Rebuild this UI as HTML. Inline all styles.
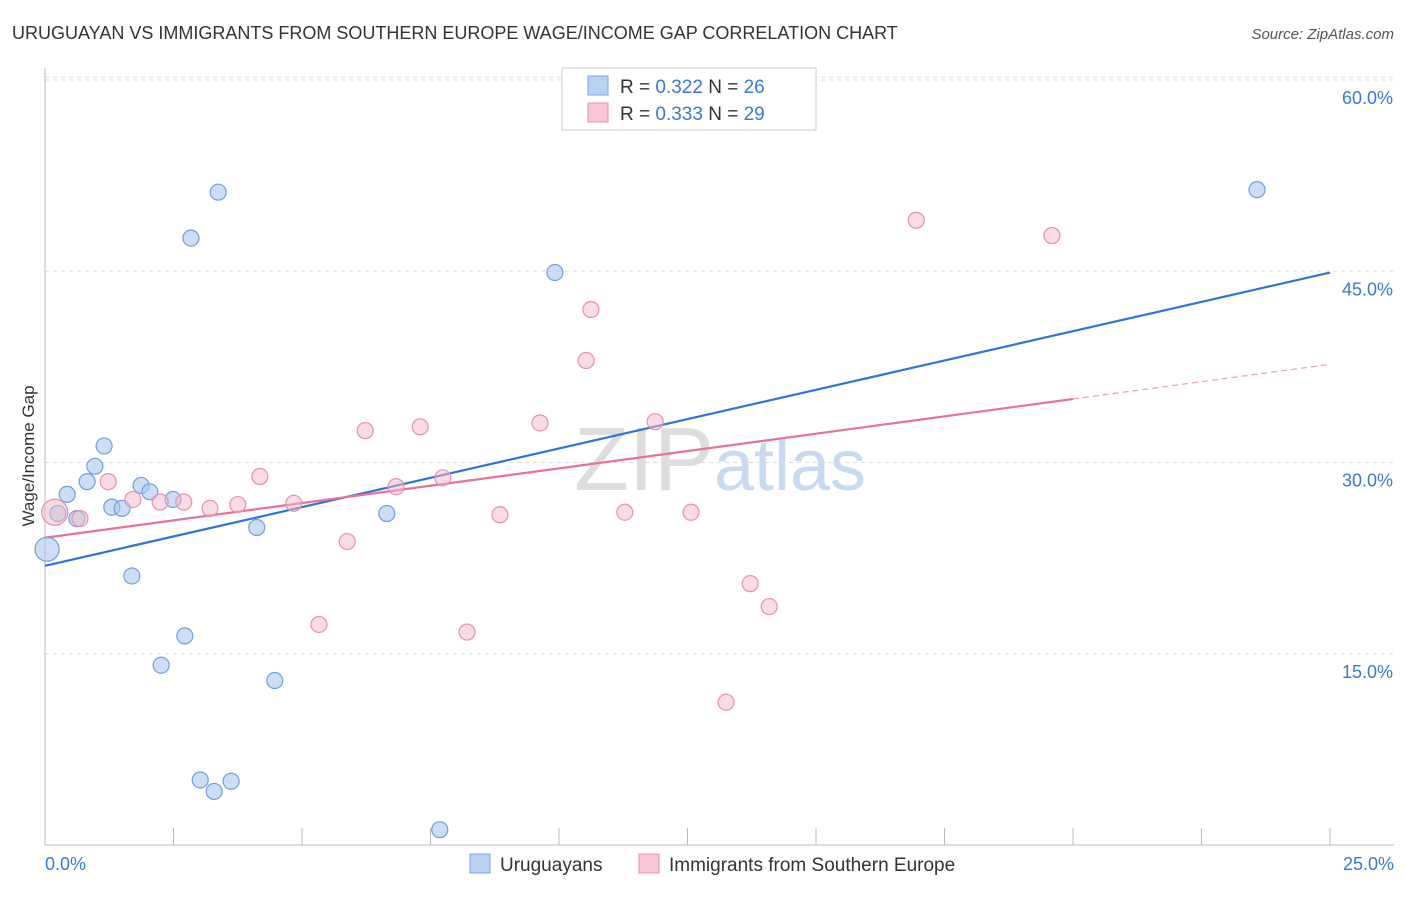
<!DOCTYPE html>
<html><head><meta charset="utf-8"><style>
body{margin:0;background:#fff;font-family:"Liberation Sans",sans-serif;}
svg text{font-family:"Liberation Sans",sans-serif;}
</style></head><body>
<svg id="chart" width="1406" height="892" xmlns="http://www.w3.org/2000/svg">
<text x="12" y="39" font-size="18" fill="#333">URUGUAYAN VS IMMIGRANTS FROM SOUTHERN EUROPE WAGE/INCOME GAP CORRELATION CHART</text>
<text x="1394" y="39" font-size="15" fill="#555" text-anchor="end" font-style="italic">Source: ZipAtlas.com</text>
<text transform="translate(34,456) rotate(-90)" font-size="17" fill="#333" text-anchor="middle">Wage/Income Gap</text>
<text x="720" y="490" font-size="90" fill="#ddd" text-anchor="middle" font-family="Liberation Serif">ZIP<tspan fill="#c8daf2" font-family="Liberation Sans" font-size="72">atlas</tspan></text>
<g id="grid"></g><g id="axes"></g><g id="trends"></g><g id="points"></g>
<g>
<rect x="562" y="68" width="254" height="62" fill="#fff" stroke="#ccc"/>
<rect x="588" y="76" width="20" height="19" fill="#b8d2f3" stroke="#7aa7e0"/>
<text x="620" y="93" font-size="19" fill="#333">R = <tspan fill="#3a78d4">0.322</tspan>   N = <tspan fill="#3a78d4">26</tspan></text>
<rect x="588" y="103" width="20" height="19" fill="#f8c6d6" stroke="#e890ad"/>
<text x="620" y="120" font-size="19" fill="#333">R = <tspan fill="#3a78d4">0.333</tspan>   N = <tspan fill="#3a78d4">29</tspan></text>
</g>
<g>
<rect x="470" y="854" width="20" height="19" fill="#b8d2f3" stroke="#7aa7e0"/>
<text x="500" y="871" font-size="19" fill="#333">Uruguayans</text>
<rect x="639" y="854" width="20" height="19" fill="#f8c6d6" stroke="#e890ad"/>
<text x="669" y="871" font-size="19" fill="#333">Immigrants from Southern Europe</text>
</g>
</svg>
<script>
const yTicks=[15,30,45,60];
const yTickLabels=["15.0%","30.0%","45.0%","60.0%"];
const xTickLabels=["0.0%","25.0%"];
const blueX=[0.04,0.25,0.43,0.82,0.62,0.97,1.15,1.30,1.50,1.69,1.87,2.04,2.26,2.49,2.72,2.84,3.02,3.29,3.37,3.62,4.12,4.47,6.65,7.68,9.92,23.58];
const blueY=[23.2,26.0,27.5,28.5,25.6,29.7,31.3,26.5,26.4,21.1,28.2,27.7,14.1,27.1,16.4,47.6,5.1,4.2,51.2,5.0,24.9,12.9,26.0,1.2,44.9,51.4];
const pinkX=[0.19,0.68,1.23,1.71,2.24,2.70,3.21,3.75,4.18,4.84,5.33,5.88,6.23,6.83,7.30,7.74,8.21,8.85,9.63,10.53,10.62,11.28,11.87,12.57,13.25,13.72,14.09,16.95,19.59];
const pinkY=[26.1,25.6,28.5,27.1,26.9,26.9,26.4,26.7,28.9,26.8,17.3,23.8,32.5,28.1,32.8,28.8,16.7,25.9,33.1,38.0,42.0,26.1,33.2,26.1,11.2,20.5,18.7,49.0,47.8];
const blueTrend=[21.9,44.9];
const pinkTrend=[24.1,37.7];
const pinkSolidEnd=20;
const NS="http://www.w3.org/2000/svg";
const X=v=>45+v/25*1285, Y=v=>845-v*12.75;
function mk(t,a,p){const e=document.createElementNS(NS,t);for(const k in a)e.setAttribute(k,a[k]);document.getElementById(p).appendChild(e);return e;}
yTicks.forEach((t,i)=>{
 const l=mk('line',{x1:45,x2:1394,y1:Y(t),y2:Y(t),stroke:'#ddd','stroke-dasharray':'4,4'},'grid');
 
 
 const tx=mk('text',{x:1393,y:Y(t)+24,'font-size':18,fill:'#3a78d4','text-anchor':'end'},'axes');
 tx.textContent=yTickLabels[i];
 
 
});
const tl=mk('line',{x1:45,x2:1394,y1:Y(60)-3,y2:Y(60)-3,stroke:'#ddd','stroke-dasharray':'4,4'},'grid');
const ya=mk('line',{x1:45,x2:45,y1:68,y2:845,stroke:'#bbb'},'axes');


const xa=mk('line',{x1:45,x2:1394,y1:845,y2:845,stroke:'#bbb'},'axes');


for(let i=0;i<=10;i++){const t=mk('line',{x1:X(i*2.5),x2:X(i*2.5),y1:828,y2:845,stroke:'#bbb'},'axes');
 
 }
[[0,'start',45],[25,'end',1394]].forEach((d,i)=>{const t=mk('text',{x:d[2],y:870,'font-size':18,fill:'#3a78d4','text-anchor':d[1]},'axes');t.textContent=xTickLabels[i];
 
 });
function pt(x,y,r,f,s,n){const c=mk('circle',{cx:X(x),cy:Y(y),r:r,fill:f,stroke:s,'stroke-width':1.2},'points');
 
 }
blueX.forEach((x,i)=>pt(x,blueY[i],i==0?12:8,'rgba(169,200,240,0.6)','#6f9fdc','uruguayan-point'));
pinkX.forEach((x,i)=>pt(x,pinkY[i],i==0?13:8,'rgba(245,184,204,0.5)','#e890ad','southern-europe-point'));
const pe=pinkTrend[0]+(pinkTrend[1]-pinkTrend[0])*pinkSolidEnd/25;
const b=mk('line',{x1:X(0),y1:Y(blueTrend[0]),x2:X(25),y2:Y(blueTrend[1]),stroke:'#2f74d6','stroke-width':2.2},'trends');


const p=mk('line',{x1:X(0),y1:Y(pinkTrend[0]),x2:X(pinkSolidEnd),y2:Y(pe),stroke:'#e8709a','stroke-width':2.2},'trends');


const pd=mk('line',{x1:X(pinkSolidEnd),y1:Y(pe),x2:X(25),y2:Y(pinkTrend[1]),stroke:'#e8a0b8','stroke-width':1.2,'stroke-dasharray':'6,4'},'trends');


</script>
</body></html>
